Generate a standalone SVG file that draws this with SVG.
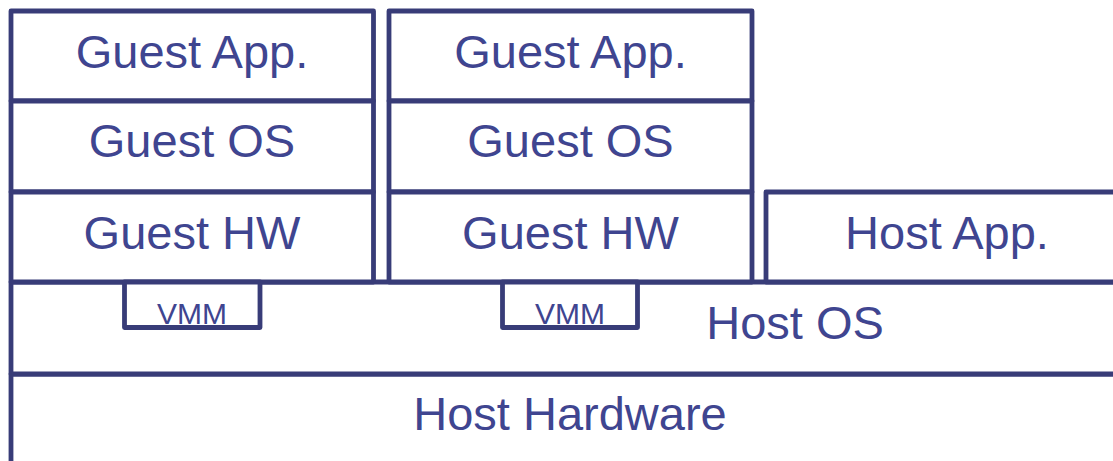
<svg xmlns="http://www.w3.org/2000/svg" width="1113" height="461" viewBox="0 0 1113 461">
<style>
rect{fill:#ffffff;stroke:#383C78;stroke-width:4.8;stroke-linejoin:round}
text{font-family:"Liberation Sans",Arial,sans-serif;fill:#3F4590;text-anchor:middle}
.big{font-size:47px}
.sm{font-size:30px}
</style>
<rect x="0" y="0" width="1113" height="461" style="stroke:none"/>
<g id="host-hardware"><rect x="11" y="374" width="1120" height="110"/><text class="big" x="570" y="430">Host Hardware</text></g>
<g id="host-os"><rect x="11" y="282" width="1120" height="92"/><text class="big" x="795" y="339">Host OS</text></g>
<g id="guest-app-1"><rect x="11" y="11" width="362.5" height="90"/><text class="big" x="192" y="68">Guest App.</text></g>
<g id="guest-os-1"><rect x="11" y="101" width="362.5" height="91"/><text class="big" x="192" y="157">Guest OS</text></g>
<g id="guest-hw-1"><rect x="11" y="192" width="362.5" height="90"/><text class="big" x="192" y="249">Guest HW</text></g>
<g id="guest-app-2"><rect x="389" y="11" width="363" height="90"/><text class="big" x="570.5" y="68">Guest App.</text></g>
<g id="guest-os-2"><rect x="389" y="101" width="363" height="91"/><text class="big" x="570.5" y="157">Guest OS</text></g>
<g id="guest-hw-2"><rect x="389" y="192" width="363" height="90"/><text class="big" x="570.5" y="249">Guest HW</text></g>
<g id="host-app"><rect x="766" y="192" width="360" height="90"/><text class="big" x="947" y="249">Host App.</text></g>
<g id="vmm-1"><rect x="124.5" y="282" width="135.5" height="45.5"/><text class="sm" x="192" y="324">VMM</text></g>
<g id="vmm-2"><rect x="502.5" y="282" width="135" height="45.5"/><text class="sm" x="570" y="324">VMM</text></g>
<g id="connectors"></g>
</svg>
